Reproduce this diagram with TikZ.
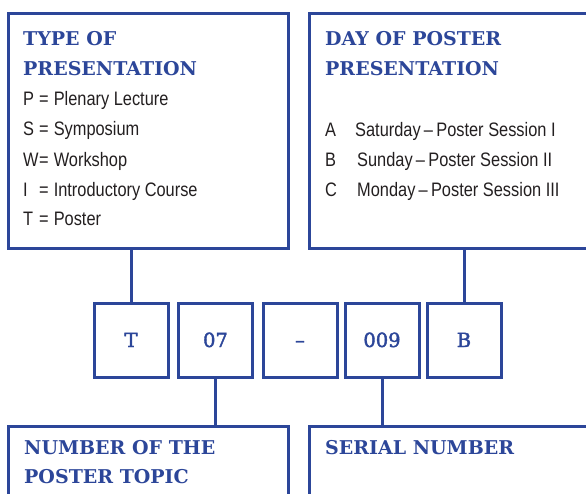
\documentclass[tikz,border=0pt]{standalone}
\usepackage{fontspec}
\newfontfamily\headfont{DejaVu Serif}[BoldFont={DejaVu Serif Bold}]
\newfontfamily\cellfont{DejaVu Serif}[FakeBold=2]
\newfontfamily\bodyfont[FakeStretch=0.84]{Liberation Sans}
\definecolor{navy}{HTML}{2C4699}
\definecolor{ink}{HTML}{231F20}
\tikzset{
  frame/.style={draw=navy, line width=3pt, inner sep=0pt, anchor=north west},
  cell/.style={draw=navy, line width=3pt, inner sep=0pt, minimum width=74pt, minimum height=74pt,
    text height=14pt, text depth=0pt,
    font=\cellfont\fontsize{19.5}{22}\selectfont, text=navy},
  link/.style={draw=navy, line width=3pt},
  head/.style={anchor=base west, inner sep=0pt, text=navy, font=\headfont\bfseries\fontsize{19}{22}\selectfont},
  body/.style={anchor=base west, inner sep=0pt, text=ink, font=\bodyfont\fontsize{19.5}{22}\selectfont},
}
\begin{document}
\begin{tikzpicture}[x=1pt,y=-1pt]
\useasboundingbox (0,0) rectangle (586,494);
\clip (0,0) rectangle (586,494);
% large frames
\node[frame, minimum width=280pt, minimum height=235pt] (box1) at (7,12) {};
\node[frame, minimum width=300pt, minimum height=235pt] (box2) at (308,12) {};
\node[frame, minimum width=280pt, minimum height=120pt] (box3) at (7,425) {};
\node[frame, minimum width=300pt, minimum height=120pt] (box4) at (308,425) {};
% code cells
\node[cell] (cT) at (131,340) {T};
\node[cell] (c07) at (215.5,340) {07};
\node[cell] (cdash) at (300,340) {–};
\node[cell] (c009) at (382,340) {009};
\node[cell] (cB) at (464,340) {B};
% connectors
\draw[link] (cT.north) -- (cT.north |- box1.south);
\draw[link] (cB.north) -- (cB.north |- box2.south);
\draw[link] (c07.south) -- (c07.south |- box3.north);
\draw[link] (c009.south) -- (c009.south |- box4.north);
% box 1 text
\node[head] (h1a) at (23,46) {TYPE OF};
\node[head] (h1b) at (23,76) {PRESENTATION};
\node[body] (p1) at (23,106) {\makebox[16pt][l]{P}=\hspace{5pt}Plenary Lecture};
\node[body] (p2) at (23,136) {\makebox[16pt][l]{S}=\hspace{5pt}Symposium};
\node[body] (p3) at (23,167) {\makebox[16pt][l]{W}=\hspace{5pt}Workshop};
\node[body] (p4) at (23,197) {\makebox[16pt][l]{I}=\hspace{5pt}Introductory Course};
\node[body] (p5) at (23,226) {\makebox[16pt][l]{T}=\hspace{5pt}Poster};
% box 2 text
\node[head] (h2a) at (325,46) {DAY OF POSTER};
\node[head] (h2b) at (325,76) {PRESENTATION};
\node[body] (d1) at (325,137) {\makebox[30pt][l]{A}Saturday\,–\,Poster Session I};
\node[body] (d2) at (325,167) {\makebox[32pt][l]{B}Sunday\,–\,Poster Session II};
\node[body] (d3) at (325,197) {\makebox[32pt][l]{C}Monday\,–\,Poster Session III};
% box 3 and 4 text
\node[head] (h3a) at (24,454) {NUMBER OF THE};
\node[head] (h3b) at (24,483) {POSTER TOPIC};
\node[head] (h4a) at (325,454) {SERIAL NUMBER};
\end{tikzpicture}
\end{document}
